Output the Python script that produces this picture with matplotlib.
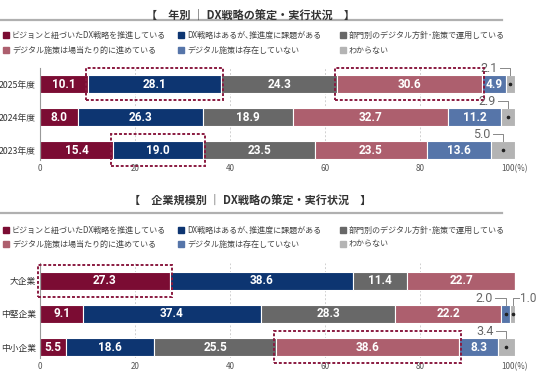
import matplotlib
matplotlib.use("Agg")
import matplotlib.pyplot as plt
from matplotlib.patches import Rectangle
from matplotlib.lines import Line2D

plt.rcParams['font.family'] = ['Noto Sans CJK JP', 'DejaVu Sans']

W, H = 536, 375

legend_labels = ['ビジョンと紐づいたDX戦略を推進している', 'DX戦略はあるが､推進度に課題がある',
                 '部門別のデジタル方針･施策で運用している', 'デジタル施策は場当たり的に進めている',
                 'デジタル施策は存在していない', 'わからない']
colors = ['#7b0c33', '#0d3571', '#686868', '#ad5f6e', '#5675a9', '#b4b4b4']

# 年別
year_cats = ['2025年度', '2024年度', '2023年度']
year_vision = [10.1, 8.0, 15.4]
year_issue = [28.1, 26.3, 19.0]
year_dept = [24.3, 18.9, 23.5]
year_adhoc = [30.6, 32.7, 23.5]
year_none = [4.9, 11.2, 13.6]
year_unknown = [2.1, 2.9, 5.0]
year_highlight = [(0, 1), (0, 3), (2, 1)]

# 企業規模別
size_cats = ['大企業', '中堅企業', '中小企業']
size_vision = [27.3, 9.1, 5.5]
size_issue = [38.6, 37.4, 18.6]
size_dept = [11.4, 28.3, 25.5]
size_adhoc = [22.7, 22.2, 38.6]
size_none = [0.0, 2.0, 8.3]
size_unknown = [0.0, 1.0, 3.4]
size_highlight = [(0, 0), (2, 3)]

ticks = [0, 20, 40, 60, 80, 100]
tick_labels = ['0', '20', '40', '60', '80', '100(%)']

NUM_FONT = ['Roboto', 'DejaVu Sans']
BAR_H = 0.545


def px(x, y):
    return x / W, 1 - y / H


def header(fig, title, y_title, y_line, y_leg):
    fig.text(*px(250, y_title), title, ha='center', va='center',
             fontsize=8, fontweight='bold', color='#333333')
    fig.add_artist(Line2D([0, 502 / W], [1 - y_line / H] * 2, color='#b0b0b0', lw=1.6))
    cols = [3, 178, 340]
    for i, lab in enumerate(legend_labels):
        x = cols[i % 3]
        y = y_leg[i // 3]
        fig.add_artist(Rectangle(px(x, y + 2.7), 5.5 / W, 5.5 / H, color=colors[i]))
        fig.text(*px(x + 9, y), lab, ha='left', va='center', fontsize=5.8, color='#444444')


def draw_panel(ax, cats, series, highlights, ylim):
    n = len(cats)
    ys = list(range(n - 1, -1, -1))
    for x in [20, 40, 60, 80, 100]:
        ax.axvline(x, color='#d0d0d0', lw=0.7, ls=(0, (2, 2)), zorder=0)
    lefts = [0.0] * n
    for si, vals in enumerate(series):
        ax.barh(ys, vals, left=lefts, height=BAR_H, color=colors[si],
                edgecolor='white', linewidth=0.8, zorder=2)
        for i, v in enumerate(vals):
            if v <= 0:
                continue
            cx = lefts[i] + v / 2
            y = ys[i]
            if si == 5 or v < 3:
                ax.plot(cx, y, 'o', ms=1.6, color='#222222', zorder=4)
                ly = y + BAR_H / 2 + 0.2
                right_side = si == 5 and lefts[i] + v >= 100 and v < 1.5
                if right_side:
                    ax.text(cx + 1.6, ly, f'{v:.1f}', ha='left', va='center', fontsize=8.5,
                            color='#666666', family=NUM_FONT, clip_on=False)
                    ax.plot([cx + 1.3, cx, cx], [ly, ly, y + BAR_H / 2], color='#888888',
                            lw=0.7, zorder=3, clip_on=False)
                else:
                    ax.text(cx - 2.6, ly, f'{v:.1f}', ha='right', va='center', fontsize=9,
                            color='#666666', family=NUM_FONT, clip_on=False)
                    ax.plot([cx - 2.2, cx, cx], [ly, ly, y + BAR_H / 2], color='#888888',
                            lw=0.7, zorder=3, clip_on=False)
            else:
                ax.text(cx, y, f'{v:.1f}', ha='center', va='center', fontsize=8.5,
                        fontweight='bold', color='white', family=NUM_FONT, zorder=5)
        lefts = [l + v for l, v in zip(lefts, vals)]

    # dashed highlight boxes
    for row, si in highlights:
        start = sum(series[k][row] for k in range(si))
        v = series[si][row]
        ax.add_patch(Rectangle((start - 0.4, ys[row] - BAR_H / 2 - 0.2), v + 0.8, BAR_H + 0.4,
                               fill=False, edgecolor='#8a1a40', lw=1.4, ls=(0, (1.5, 1)),
                               zorder=6, clip_on=False))

    ax.set_xlim(0, 100)
    ax.set_ylim(*ylim)
    ax.set_yticks(ys)
    ax.set_yticklabels(cats, fontsize=6.3, color='#333333')
    ax.set_xticks(ticks)
    ax.set_xticklabels(tick_labels, fontsize=5.8, color='#555555')
    ax.tick_params(axis='y', length=0, pad=3)
    ax.tick_params(axis='x', length=0, pad=3)
    for s in ['top', 'right', 'bottom']:
        ax.spines[s].set_visible(False)
    ax.spines['left'].set_color('#999999')
    ax.spines['left'].set_linewidth(0.8)


fig = plt.figure(figsize=(W / 100, H / 100), dpi=100)

header(fig, '【　年別 ｜ DX戦略の策定・実行状況　】', 15, 20, [35, 50])
ax1 = fig.add_axes([40 / W, 1 - 160 / H, 475 / W, 92 / H])
draw_panel(ax1, year_cats,
           [year_vision, year_issue, year_dept, year_adhoc, year_none, year_unknown],
           year_highlight, (-0.303, 2.485))

header(fig, '【　企業規模別 ｜ DX戦略の策定・実行状況　】', 200, 213, [230, 244])
ax2 = fig.add_axes([40 / W, 1 - 358 / H, 475 / W, 95 / H])
draw_panel(ax2, size_cats,
           [size_vision, size_issue, size_dept, size_adhoc, size_none, size_unknown],
           size_highlight, (-0.333, 2.545))

fig.savefig('out.png', dpi=100)
